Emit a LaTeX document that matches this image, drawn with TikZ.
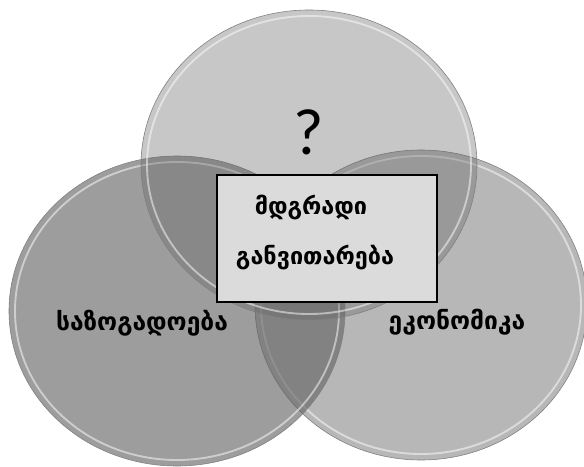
\documentclass[tikz,border=0pt]{standalone}
\usepackage{fontspec}
\newfontfamily\geofont{DejaVu Sans}
\newfontfamily\qfont{Carlito}
\usetikzlibrary{positioning}
\definecolor{discgray}{gray}{0.39}
\definecolor{boxgray}{gray}{0.86}

\begin{document}
\begin{tikzpicture}[x=0.3mm, y=-0.3mm,
    disc/.style={fill=discgray, draw=black!50, line width=0.5pt},
    rim/.style={draw=white, line width=1.6pt, draw opacity=0.5},
    word/.style={font=\geofont\bfseries\fontsize{21}{25}\selectfont, inner sep=0pt},
    boxword/.style={font=\geofont\bfseries\fontsize{20}{24}\selectfont, inner sep=0pt},
    centerbox/.style={rectangle, draw=black, line width=1.5pt, fill=boxgray, minimum width=66mm, minimum height=38.1mm, inner sep=0pt}
]

\useasboundingbox (0,0) rectangle (584,467);

% three overlapping discs
\path[disc, fill opacity=0.46] (421,305) ellipse [x radius=166, y radius=155];
\draw[rim] (421,305) ellipse [x radius=160, y radius=149];
\path[disc, fill opacity=0.63] (177,311) ellipse [x radius=168, y radius=155];
\draw[rim] (177,311) ellipse [x radius=162, y radius=149];
\path[disc, fill opacity=0.36] (309,165) ellipse [x radius=168, y radius=155];
\draw[rim] (309,165) ellipse [x radius=162, y radius=149];

% middle box
\node[centerbox] (goal) at (327,238.5) {};
\node[boxword] (goal1) at (311,207) {მდგრადი};
\node[boxword] (goal2) at (315,257) {განვითარება};

% labels
\node[font=\qfont\fontsize{56}{60}\selectfont, inner sep=0pt] (question) at (309,132) {?};
\node[word] (society) at (142,323) {საზოგადოება};
\node[word] (economy) at (457,322) {ეკონომიკა};

\end{tikzpicture}
\end{document}
